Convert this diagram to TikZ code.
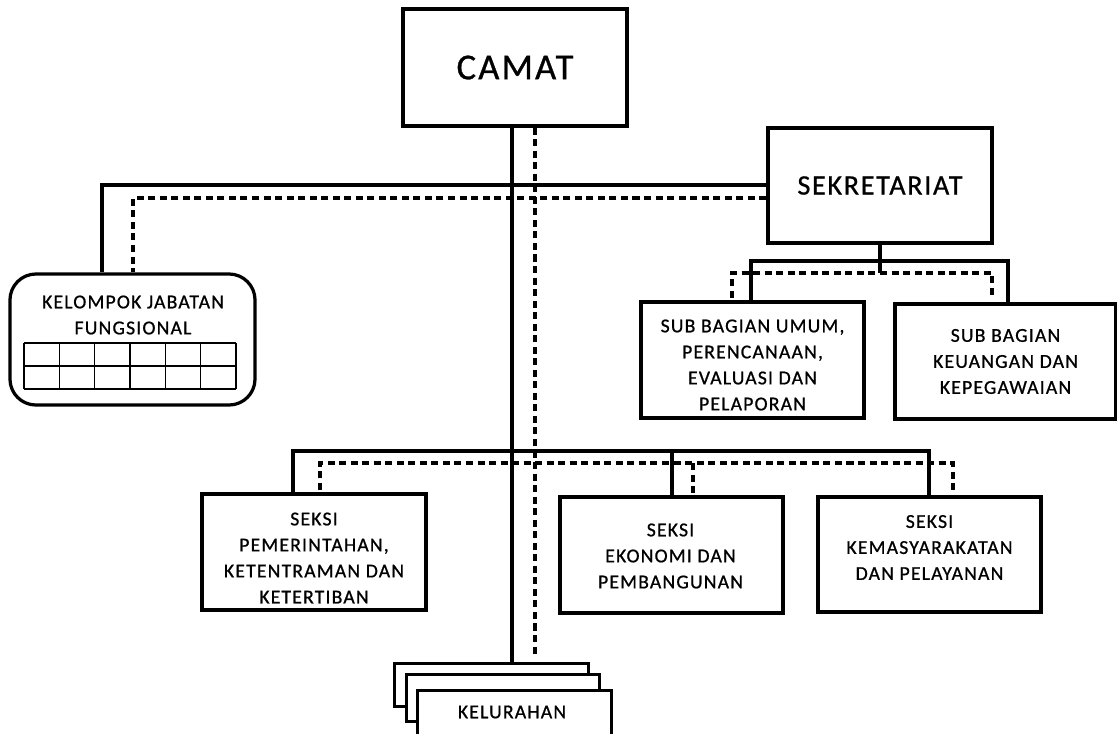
\documentclass[tikz,border=0pt]{standalone}
\usepackage{fontspec}
\setmainfont{Carlito}
\newfontfamily\orgfont[LetterSpace=6, FakeBold=0.8]{Carlito}
\usetikzlibrary{calc}
\usetikzlibrary{positioning}

\tikzset{
  unit/.style={draw, line width=2.3pt, inner sep=0pt, align=center, fill=white,
    font=\orgfont\fontsize{14}{18.5}\selectfont},
  lbl/.style={inner sep=0pt, align=center, font=\orgfont\fontsize{14}{18.5}\selectfont},
  link/.style={line width=2.3pt},
  dotlink/.style={line width=2.3pt, dash pattern=on 5pt off 3.2pt},
}

\begin{document}
\begin{tikzpicture}[x=0.025cm, y=-0.025cm]
            \useasboundingbox (0,0) rectangle (1117,733);

            % boxes
            \node[unit, minimum width=5.6cm, minimum height=2.925cm,
                  font=\orgfont\fontsize{26}{30}\selectfont] (camat) at (515,67.5) {CAMAT};
            \node[unit, minimum width=5.6cm, minimum height=2.875cm,
                  font=\orgfont\fontsize{20}{24}\selectfont] (sekr) at (880,185.5) {SEKRETARIAT};

            \node[unit, rounded corners=0.65cm, minimum width=6.125cm, minimum height=3.275cm] (kjf) at (132.5,339.5) {};
            \node[lbl] (kjftxt) at (133,315) {KELOMPOK JABATAN\\FUNGSIONAL};
            \foreach \i in {0,...,6}
                \draw[line width=1.1pt] (24+\i*35.33,343) -- (24+\i*35.33,389);
            \foreach \j in {343,366,389}
                \draw[line width=1.1pt] (24,\j) -- (236,\j);

            \node[unit, minimum width=5.575cm, minimum height=2.9cm] (sbu) at (752.5,360) {};
            \node[lbl] (sbutxt) at ($(sbu)+(0,5)$) {SUB BAGIAN UMUM,\\PERENCANAAN,\\EVALUASI DAN\\PELAPORAN};
            \node[unit, minimum width=5.525cm, minimum height=2.875cm] (sbk) at (1005.5,361.5) {};
            \node[lbl] (sbktxt) at (sbk) {SUB BAGIAN\\KEUANGAN DAN\\KEPEGAWAIAN};

            \node[unit, minimum width=5.6cm, minimum height=2.9cm] (spem) at (314,552) {};
            \node[lbl] (spemtxt) at ($(spem)+(0,6)$) {SEKSI\\PEMERINTAHAN,\\KETENTRAMAN DAN\\KETERTIBAN};
            \node[unit, minimum width=5.575cm, minimum height=2.9cm] (seko) at (671.5,555) {};
            \node[lbl] (sekotxt) at ($(seko)+(-1,1)$) {SEKSI\\EKONOMI DAN\\PEMBANGUNAN};
            \node[unit, minimum width=5.575cm, minimum height=2.875cm] (skem) at (929.5,554.5) {};
            \node[lbl] (skemtxt) at ($(skem)+(0,-7)$) {SEKSI\\KEMASYARAKATAN\\DAN PELAYANAN};

            \node[unit, anchor=north west, minimum width=4.85cm, minimum height=1.075cm] (kel1) at (393,662) {};
            \node[unit, anchor=north west, minimum width=4.825cm, minimum height=1.175cm] (kel2) at (405,673) {};
            \node[unit, anchor=north west, minimum width=4.85cm, minimum height=1.6cm] (kel3) at (416,689) {};
            \node[lbl] (keltxt) at (512,712) {KELURAHAN};

            % junctions
            \coordinate (spine) at (512,0);
            \coordinate (dspine) at (535,655);
            \coordinate (kL) at (102,185);
            \coordinate (kLd) at (133,198);

            \coordinate (sL) at (751,261);
            \coordinate (sR) at (1008,261);
            \coordinate (sJd) at (880,273);
            \coordinate (sLd) at (732,273);
            \coordinate (sRd) at (992,273);

            \coordinate (bL) at (293,451);
            \coordinate (bM) at (672,451);
            \coordinate (bR) at (929,451);
            \coordinate (bLd) at (320,463);
            \coordinate (bMd) at (693,463);
            \coordinate (bRd) at (953,463);

            % lines from camat
            \draw[link] (camat.south -| spine) -- (kel1.north -| spine);
            \draw[dotlink] (camat.south -| dspine) -- (dspine);

            \draw[link] (sekr.west |- kL) -- (kL) -- (kL |- kjf.north);
            \draw[dotlink] (sekr.west |- kLd) -- (kLd) -- (kLd |- kjf.north);

            % sekretariat
            \draw[link] (sekr.south) -- (sJd);
            \draw[link] (sL |- sbu.north) -- (sL) -- (sR) -- (sR |- sbk.north);
            \draw[dotlink] ($(sLd)+(0,25)$) -- (sLd) -- (sRd) -- ($(sRd)+(0,25)$);

            % seksi
            \draw[link] (bL |- spem.north) -- (bL) -- (bR) -- (bR |- skem.north);
            \draw[link] (bM) -- (bM |- seko.north);
            \draw[dotlink] ($(bLd)+(0,27)$) -- (bLd) -- (bRd) -- ($(bRd)+(0,29)$);
            \draw[dotlink] (bMd) -- ($(bMd)+(0,32)$);
        \end{tikzpicture}
\end{document}
